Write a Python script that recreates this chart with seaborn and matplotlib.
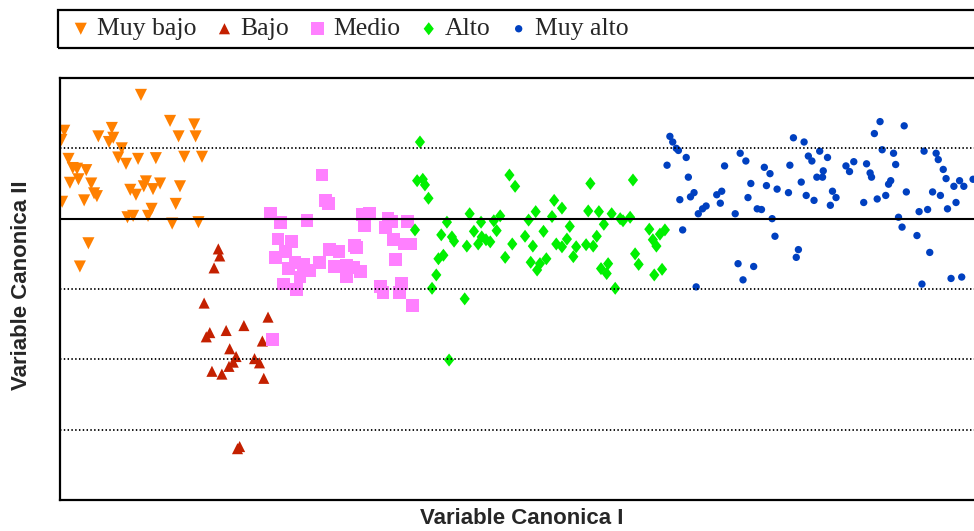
import matplotlib
matplotlib.use("Agg")
import matplotlib.pyplot as plt
import seaborn as sns
import pandas as pd
from matplotlib.path import Path
from matplotlib.patches import Rectangle

# ---------------- data (canonical scores) ----------------
muy_bajo_x = [1.14, 0.06, 0.02, 0.73, 0.75, 0.69, 0.54, 1.55, 1.89, 1.67, 1.91, 0.87, 0.82, 0.93, 1.10,
              1.35, 1.75, 2.00, 0.12, 0.18, 0.24, 0.37, 0.14, 0.26, 0.44, 0.48, 0.52, 0.34, 0.03, 0.99,
              1.07, 1.21, 1.18, 1.31, 1.41, 1.69, 1.63, 1.29, 1.24, 1.03, 0.95, 1.58, 1.95, 0.40, 0.28]
muy_bajo_y = [1.76, 1.25, 1.12, 1.29, 1.15, 1.09, 1.17, 1.39, 1.34, 1.17, 1.17, 1.00, 0.87, 0.78, 0.85,
              0.86, 0.88, 0.88, 0.85, 0.72, 0.71, 0.69, 0.51, 0.56, 0.50, 0.36, 0.32, 0.26, 0.24, 0.41,
              0.34, 0.53, 0.46, 0.42, 0.50, 0.46, 0.21, 0.14, 0.04, 0.04, 0.02, -0.07, -0.05, -0.35, -0.68]

bajo_x = [2.23, 2.25, 2.17, 2.03, 2.93, 2.59, 2.34, 2.11, 2.06, 2.85, 2.39, 2.48, 2.44, 2.38, 2.14,
          2.28, 2.74, 2.81, 2.87, 2.53, 2.50]
bajo_y = [-0.43, -0.53, -0.70, -1.20, -1.40, -1.52, -1.59, -1.62, -1.68, -1.74, -1.85, -1.96, -2.04, -2.10, -2.17,
          -2.21, -1.99, -2.05, -2.27, -3.24, -3.27]

medio_x = [3.69, 3.74, 3.78, 2.96, 3.10, 3.48, 4.26, 4.36, 4.29, 4.62, 4.67, 4.59, 4.89, 3.07, 3.26,
           3.18, 3.03, 3.22, 3.31, 3.43, 3.38, 3.52, 3.66, 3.80, 3.93, 3.87, 4.04, 4.13, 4.03, 4.23,
           4.15, 4.18, 4.70, 4.85, 4.94, 4.73, 3.15, 3.33, 4.51, 4.55, 4.81, 4.78, 4.96, 2.99]
medio_y = [0.62, 0.26, 0.22, 0.08, -0.06, -0.03, 0.06, 0.07, -0.10, 0.00, -0.04, -0.13, -0.04, -0.29, -0.32,
           -0.47, -0.55, -0.71, -0.62, -0.65, -0.83, -0.74, -0.62, -0.44, -0.47, -0.68, -0.66, -0.69, -0.82, -0.75,
           -0.38, -0.41, -0.30, -0.36, -0.36, -0.58, -0.93, -1.01, -0.97, -1.05, -0.92, -1.05, -1.24, -1.72]

alto_x = [5.07, 5.03, 5.11, 5.14, 5.19, 6.33, 6.41, 7.47, 8.07, 6.96, 7.07, 5.77, 5.45, 5.00, 5.37,
          5.52, 5.55, 5.93, 5.83, 5.94, 6.00, 6.06, 5.89, 6.15, 6.11, 6.20, 5.73, 6.60, 6.70, 6.93,
          6.81, 6.55, 6.37, 6.66, 7.18, 7.44, 7.59, 7.66, 7.77, 7.89, 8.03, 7.93, 7.56, 7.41, 7.51,
          6.99, 7.14, 7.07, 7.27, 7.23, 6.27, 6.63, 6.76, 6.85, 6.72, 5.40, 5.33, 5.30, 5.24, 5.70,
          5.48, 7.62, 7.72, 7.70, 7.82, 8.10, 8.15, 8.30, 8.35, 8.40, 8.45, 8.52, 8.48, 8.37]
alto_y = [1.09, 0.54, 0.56, 0.48, 0.29, 0.62, 0.46, 0.50, 0.55, 0.26, 0.15, 0.07, -0.05, -0.16, -0.23,
          -0.26, -0.32, -0.05, -0.18, -0.26, -0.30, -0.33, -0.36, -0.17, -0.03, 0.04, -0.39, -0.02, 0.10, 0.03,
          -0.18, -0.25, -0.36, -0.39, -0.11, 0.11, 0.10, -0.08, 0.07, 0.00, 0.02, -0.03, -0.25, -0.37, -0.39,
          -0.36, -0.29, -0.40, -0.40, -0.54, -0.55, -0.62, -0.64, -0.57, -0.73, -0.52, -0.57, -0.80, -0.99, -1.14,
          -2.01, -0.71, -0.64, -0.78, -0.99, -0.50, -0.65, -0.15, -0.30, -0.39, -0.22, -0.16, -0.72, -0.80]

muy_alto_x = [8.59, 8.63, 8.68, 8.71, 8.82, 8.55, 8.85, 8.73, 8.88, 8.93, 8.99, 9.05, 9.10, 8.77, 8.96,
              9.25, 9.32, 9.30, 9.36, 9.58, 9.66, 9.51, 9.73, 9.69, 9.82, 9.88, 9.92, 10.00, 9.95, 10.10,
              10.03, 10.07, 10.26, 10.28, 10.33, 10.48, 10.54, 10.59, 10.70, 10.81, 10.44, 10.51, 10.62, 10.66, 10.75,
              10.74, 10.88, 10.93, 10.85, 9.55, 9.77, 9.62, 10.40, 10.37, 11.07, 11.12, 11.18, 11.36, 11.41, 11.43,
              11.32, 11.51, 11.63, 11.67, 11.70, 11.47, 11.55, 11.89, 11.58, 11.74, 11.77, 11.92, 11.81, 11.86, 12.07,
              12.25, 12.14, 12.10, 12.22, 12.17, 12.34, 12.37, 12.44, 12.48, 12.29, 12.40, 12.50, 12.62, 12.59, 12.67,
              12.73, 12.86, 12.55, 12.70]
muy_alto_y = [1.17, 1.09, 1.00, 0.97, 0.87, 0.76, 0.59, 0.27, 0.31, 0.37, 0.07, 0.14, 0.18, -0.16, -0.97,
              0.34, 0.39, 0.22, 0.75, 0.93, 0.82, 0.07, 0.50, 0.30, 0.14, 0.13, 0.73, 0.64, 0.47, 0.42,
              0.00, -0.25, 0.37, 0.76, 1.15, 1.09, 0.89, 0.82, 0.96, 0.87, 0.52, 0.33, 0.26, 0.59, 0.68,
              0.59, 0.39, 0.30, 0.19, -0.64, -0.68, -0.87, -0.44, -0.55, 0.75, 0.67, 0.81, 0.78, 0.65, 0.59,
              0.23, 0.28, 0.33, 0.49, 0.54, 1.21, 1.38, 1.32, 0.98, 0.93, 0.77, 0.38, 0.02, -0.12, -0.24,
              -0.48, -0.93, 0.10, 0.13, 0.96, 0.93, 0.84, 0.70, 0.57, 0.38, 0.33, 0.14, 0.23, 0.46, 0.54,
              0.46, 0.56, -0.85, -0.83]

grupos = ["Muy bajo", "Bajo", "Medio", "Alto", "Muy alto"]
grid_levels = [1, -1, -2, -3]

# ---------------- styling ----------------
colores = {"Muy bajo": "#FF8000", "Bajo": "#C42000", "Medio": "#FF80FF",
           "Alto": "#00F000", "Muy alto": "#0040C0"}
diamante = Path([(0, 1), (0.78, 0), (0, -1), (-0.78, 0), (0, 1)],
                [Path.MOVETO, Path.LINETO, Path.LINETO, Path.LINETO, Path.CLOSEPOLY])
marcadores = {"Muy bajo": "v", "Bajo": "^", "Medio": "s", "Alto": diamante, "Muy alto": "o"}
tamanos = {"Muy bajo": 76, "Bajo": 64, "Medio": 85, "Alto": 88, "Muy alto": 28}

datos = {"Muy bajo": (muy_bajo_x, muy_bajo_y), "Bajo": (bajo_x, bajo_y),
         "Medio": (medio_x, medio_y), "Alto": (alto_x, alto_y),
         "Muy alto": (muy_alto_x, muy_alto_y)}

sns.set_style("white")
plt.rcParams["font.family"] = ["Liberation Sans", "DejaVu Sans"]

fig = plt.figure(figsize=(9.74, 5.31), dpi=100)
ax = fig.add_axes([60 / 974, 31 / 531, 923 / 974, 422 / 531])

for g in grupos:
    xs, ys = datos[g]
    df = pd.DataFrame({"x": xs, "y": ys})
    sns.scatterplot(data=df, x="x", y="y", ax=ax, color=colores[g], marker=marcadores[g],
                    s=tamanos[g], linewidth=0, edgecolor="none", label=g, zorder=2)

ax.axhline(0, color="black", lw=1.5, zorder=3)
for lv in grid_levels:
    ax.axhline(lv, color="black", lw=1.3, linestyle=(0, (0.8, 1.3)), zorder=3)

ax.set_xlim(0, 13)
ax.set_ylim(-4, 2)
ax.set_xticks([])
ax.set_yticks([])
ax.set_xlabel("")
ax.set_ylabel("")
for side in ["left", "top", "bottom", "right"]:
    ax.spines[side].set_color("black")
    ax.spines[side].set_linewidth(1.6)

handles, labels = ax.get_legend_handles_labels()
ax.legend_.remove()

# legend frame
fig.patches.append(Rectangle((58 / 974, (531 - 48) / 531), 925 / 974, 38 / 531,
                             transform=fig.transFigure, fill=False, edgecolor="black",
                             lw=1.6, zorder=5))
fig.legend(handles, labels, loc="center left", bbox_to_anchor=(70.5 / 974, (531 - 29) / 531),
           ncol=5, frameon=False, borderpad=0, borderaxespad=0, handlelength=0.8,
           handletextpad=0.23, columnspacing=0.69, markerscale=1.0,
           prop={"family": ["Liberation Serif", "DejaVu Serif"], "size": 18.5})

fig.text(522 / 974, (531 - 519) / 531, "Variable Canonica I", ha="center", va="center",
         fontsize=16, fontweight="bold")
fig.text(22 / 974, (531 - 285) / 531, "Variable Canonica II", ha="center", va="center",
         rotation=90, fontsize=16, fontweight="bold")

fig.savefig("out.png", dpi=100)
